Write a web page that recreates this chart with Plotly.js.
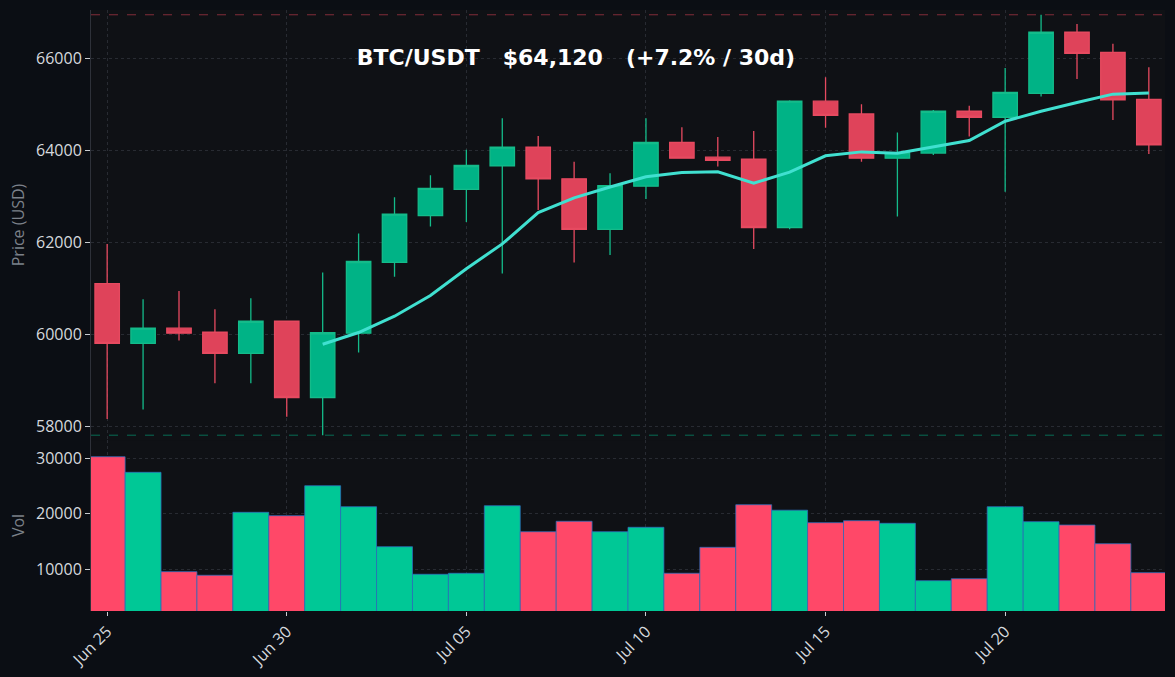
<!DOCTYPE html>
<html>
<head>
<meta charset="utf-8">
<script src="https://cdn.plot.ly/plotly-3.0.1.min.js"></script>
<style>
  html, body { margin: 0; padding: 0; background: #0b0e14; }
  #chart { width: 1175px; height: 677px; }
</style>
</head>
<body>
<div id="chart"></div>
<script>
// ---- Data ----
const dates = [
  '2024-06-25','2024-06-26','2024-06-27','2024-06-28','2024-06-29','2024-06-30',
  '2024-07-01','2024-07-02','2024-07-03','2024-07-04','2024-07-05','2024-07-06',
  '2024-07-07','2024-07-08','2024-07-09','2024-07-10','2024-07-11','2024-07-12',
  '2024-07-13','2024-07-14','2024-07-15','2024-07-16','2024-07-17','2024-07-18',
  '2024-07-19','2024-07-20','2024-07-21','2024-07-22','2024-07-23','2024-07-24'
];
const openP  = [61100,59800,60130,60040,59580,60280,58620,60020,61560,62580,63150,63660,64070,63380,62280,63220,64170,63850,63810,62320,65070,64790,63830,63940,64850,64720,65240,66570,66130,65110];
const highP  = [61960,60760,60940,60540,60780,60290,61340,62190,62980,63460,64010,64700,64310,63750,63500,64700,64500,64290,64420,65090,65590,65000,64390,64880,64970,65790,66950,66750,66320,65810];
const lowP   = [58150,58360,59860,58930,58930,58200,57800,59600,61250,62340,62440,61320,62700,61560,61720,62940,63820,63650,61850,62280,64490,63750,62560,63900,64300,63100,65170,65550,64660,63920];
const closeP = [59800,60130,60020,59580,60280,58620,60030,61580,62610,63170,63670,64070,63380,62280,63230,64170,63830,63780,62320,65070,64760,63830,63950,64850,64720,65260,66570,66110,65100,64120];
const volume = [30290,27480,9570,8920,20270,19660,25060,21280,14070,9100,9280,21460,16770,18650,16770,17570,9280,13960,21640,20650,18400,18760,18290,7940,8300,21280,18580,17980,14610,9390];
// 7-day moving average line, as drawn (from Jul 01 on)
const maDates = dates.slice(6);
const maValues = [59780,60034,60389,60839,61423,61964,62644,62966,63201,63424,63519,63534,63284,63526,63880,63966,63934,64080,64214,64634,64849,65041,65223,65247];
const maxHigh = 66950;
const minLow = 57800;
const titleText = 'BTC/USDT   $64,120   (+7.2% / 30d)';

// ---- Styling ----
const upCandle = '#00b386', downCandle = '#df435a';
const upVol = '#00c896', downVol = '#ff4868';
const volColors = closeP.map((c, i) => c >= openP[i] ? upVol : downVol);

const candle = {
  type: 'candlestick', x: dates, open: openP, high: highP, low: lowP, close: closeP,
  xaxis: 'x', yaxis: 'y',
  increasing: { line: { color: '#14bb8a', width: 1.3 }, fillcolor: upCandle },
  decreasing: { line: { color: '#e64a60', width: 1.3 }, fillcolor: downCandle },
  whiskerwidth: 0, showlegend: false, hoverinfo: 'x+y'
};
const ma = {
  type: 'scatter', mode: 'lines', x: maDates, y: maValues, xaxis: 'x', yaxis: 'y',
  line: { color: '#40e0d0', width: 3 }, showlegend: false
};
const vol = {
  type: 'bar', x: dates, y: volume, xaxis: 'x', yaxis: 'y2',
  marker: { color: volColors, line: { color: 'rgba(45,110,190,0.75)', width: 1 } },
  showlegend: false
};

const tickFont = { family: 'Open Sans, Noto Sans, sans-serif', size: 16, color: '#d6d9de' };
const axTitleFont = { family: 'Open Sans, Noto Sans, sans-serif', size: 16, color: '#7c818a' };
const gridC = '#282b32';

const layout = {
  width: 1175, height: 677,
  paper_bgcolor: '#0b0e14', plot_bgcolor: '#0f1115',
  margin: { l: 91, r: 10, t: 10, b: 66 },
  bargap: 0,
  boxgap: 0.32, boxgroupgap: 0,
  showlegend: false,
  title: {
    text: titleText,
    font: { family: 'DejaVu Sans, sans-serif', size: 22, color: '#ffffff', weight: 'bold' },
    xref: 'container', x: 0.4902, xanchor: 'center',
    yref: 'container', y: 0.9158, yanchor: 'middle'
  },
  xaxis: {
    type: 'date', anchor: 'y2',
    range: ['2024-06-24 13:12', '2024-07-24 10:48'],
    rangeslider: { visible: false },
    tick0: '2024-06-25', dtick: 5 * 86400000, tickformat: '%b %d',
    tickangle: -45, tickfont: tickFont,
    ticks: 'outside', ticklen: 4, tickcolor: '#c8cbd0',
    showgrid: true, gridcolor: gridC, griddash: 'dot', gridwidth: 1,
    showline: false, zeroline: false
  },
  yaxis: {
    domain: [0.2845, 1], range: [57695, 67054],
    dtick: 2000, tickformat: 'd', tickfont: tickFont,
    ticks: 'outside', ticklen: 5, tickcolor: '#c8cbd0',
    showgrid: true, gridcolor: gridC, griddash: 'dot', gridwidth: 1,
    showline: true, linecolor: '#2e3139', linewidth: 1, zeroline: false,
    title: { text: 'Price (USD)', font: axTitleFont, standoff: 7 }
  },
  yaxis2: {
    domain: [0, 0.2845], range: [2480, 33300],
    dtick: 10000, tickformat: 'd', tickfont: tickFont,
    ticks: 'outside', ticklen: 5, tickcolor: '#c8cbd0',
    showgrid: true, gridcolor: gridC, griddash: 'dot', gridwidth: 1,
    showline: true, linecolor: '#2e3139', linewidth: 1, zeroline: false,
    title: { text: 'Vol', font: axTitleFont, standoff: 7 }
  },
  shapes: [
    { type: 'line', xref: 'paper', x0: 0, x1: 1, yref: 'y', y0: maxHigh, y1: maxHigh,
      line: { color: 'rgba(224,68,90,0.55)', width: 1, dash: 'dash' } },
    { type: 'line', xref: 'paper', x0: 0, x1: 1, yref: 'y', y0: minLow, y1: minLow,
      line: { color: 'rgba(0,184,135,0.55)', width: 1, dash: 'dash' } }
  ]
};

Plotly.newPlot('chart', [vol, candle, ma], layout, { displayModeBar: false, staticPlot: true });
</script>
</body>
</html>
